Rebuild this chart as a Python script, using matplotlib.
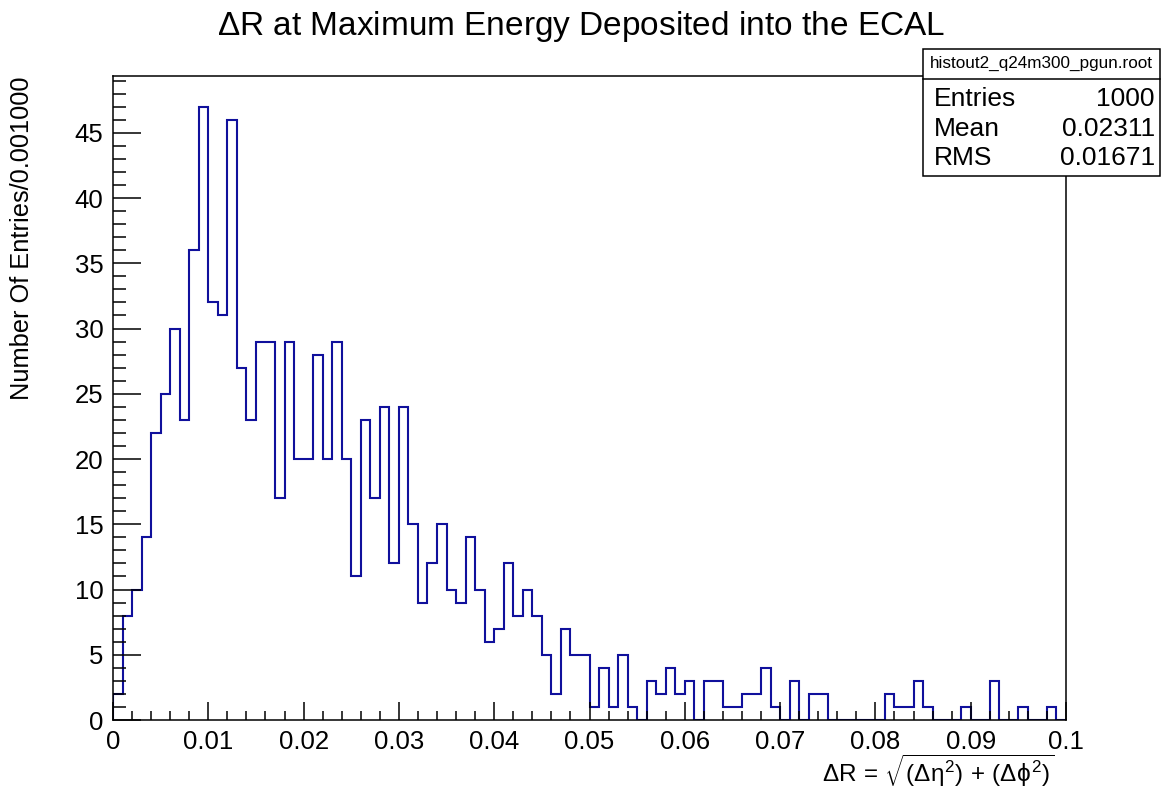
import numpy as np
import matplotlib
matplotlib.use("Agg")
import matplotlib.pyplot as plt
from matplotlib.patches import Rectangle
from matplotlib.lines import Line2D

plt.rcParams['font.family'] = ['Liberation Sans', 'DejaVu Sans']
plt.rcParams['mathtext.fontset'] = 'custom'
plt.rcParams['mathtext.rm'] = 'Liberation Sans'
plt.rcParams['mathtext.it'] = 'Liberation Sans'
plt.rcParams['mathtext.bf'] = 'Liberation Sans:bold'

# Histogram: 100 bins of width 0.001 from 0 to 0.1
bin_lo = 0.0
bin_hi = 0.1
counts = [
    2, 8, 10, 14, 22, 25, 30, 23, 36, 47,
    32, 31, 46, 27, 23, 29, 29, 17, 29, 20,
    20, 28, 20, 29, 20, 11, 23, 17, 24, 12,
    24, 15, 9, 12, 15, 10, 9, 14, 10, 6,
    7, 12, 8, 10, 8, 5, 2, 7, 5, 5,
    1, 4, 1, 5, 1, 0, 3, 2, 4, 2,
    3, 0, 3, 3, 1, 1, 2, 2, 4, 1,
    0, 3, 0, 2, 2, 0, 0, 0, 0, 0,
    0, 2, 1, 1, 3, 1, 0, 0, 0, 1,
    0, 0, 3, 0, 0, 1, 0, 0, 1, 0,
]

x_ticks = [0.0, 0.01, 0.02, 0.03, 0.04, 0.05, 0.06, 0.07, 0.08, 0.09, 0.1]
x_tick_labels = ['0', '0.01', '0.02', '0.03', '0.04', '0.05', '0.06',
                 '0.07', '0.08', '0.09', '0.1']
y_ticks = [0, 5, 10, 15, 20, 25, 30, 35, 40, 45]

title = r'$\Delta$R at Maximum Energy Deposited into the ECAL'
y_title = 'Number Of Entries/0.001000'
x_title = (r'$\Delta\mathrm{R}\,=\,\sqrt{(\Delta\eta^{2})\,+\,'
           r'(\Delta\phi^{2})}$')

stats_name = 'histout2_q24m300_pgun.root'
stats_labels = ['Entries', 'Mean', 'RMS']
stats_values = ['1000', '0.02311', '0.01671']

W, H = 1163, 791
fig = plt.figure(figsize=(W / 100, H / 100), dpi=100)

def fx(px):
    return px / W

def fy(py):
    return 1 - py / H

ax_left, ax_right, ax_top, ax_bottom = 113, 1066, 76, 720
ax = fig.add_axes([fx(ax_left), fy(ax_bottom), fx(ax_right - ax_left),
                   (ax_bottom - ax_top) / H])

edges = np.linspace(bin_lo, bin_hi, len(counts) + 1)
ax.stairs(counts, edges, baseline=0, color='#10109c', linewidth=1.5)

ax.set_xlim(bin_lo, bin_hi)
ax.set_ylim(0, max(counts) * 1.05)

ax.set_xticks(x_ticks)
ax.set_xticklabels(x_tick_labels)
ax.set_xticks(np.arange(0, 0.1001, 0.002), minor=True)
ax.set_yticks(y_ticks)
ax.set_yticks(np.arange(0, 50, 1), minor=True)

for s in ax.spines.values():
    s.set_linewidth(1.1)
    s.set_color('black')

ax.tick_params(axis='x', which='major', direction='in', length=13, width=1.1,
               labelsize=18.5, pad=7, top=False)
ax.tick_params(axis='x', which='minor', direction='in', length=6.5, width=1.1,
               top=False)
ax.tick_params(axis='y', which='major', direction='in', length=20, width=1.1,
               labelsize=18.5, pad=7, right=False)
ax.tick_params(axis='y', which='minor', direction='in', length=9.5, width=1.1,
               right=False)

# Titles
fig.text(0.5, fy(26), title, ha='center', va='center', fontsize=24)
fig.text(fx(22), fy(77), y_title, rotation=90, ha='center', va='top',
         fontsize=18.3)
fig.text(fx(1055), fy(771), x_title, ha='right', va='center', fontsize=17.5)

# Statistics box
bx0, bx1, by0, by1, bdiv = 923, 1160, 49, 176, 79
fig.patches.append(Rectangle((fx(bx0), fy(by1)), fx(bx1 - bx0), (by1 - by0) / H,
                             transform=fig.transFigure, facecolor='white',
                             edgecolor='black', linewidth=1.1, zorder=5))
fig.lines.append(Line2D([fx(bx0), fx(bx1)], [fy(bdiv), fy(bdiv)],
                        transform=fig.transFigure, color='black',
                        linewidth=1.1, zorder=6))
fig.text(fx((bx0 + bx1) / 2), fy(63), stats_name, ha='center', va='center',
         fontsize=12.3, zorder=7)
rows_y = [99, 129, 158]
for lab, val, yy in zip(stats_labels, stats_values, rows_y):
    fig.text(fx(934), fy(yy), lab, ha='left', va='center', fontsize=19,
             zorder=7)
    fig.text(fx(1155), fy(yy), val, ha='right', va='center', fontsize=19,
             zorder=7)

fig.savefig('out.png', dpi=100, facecolor='white')
